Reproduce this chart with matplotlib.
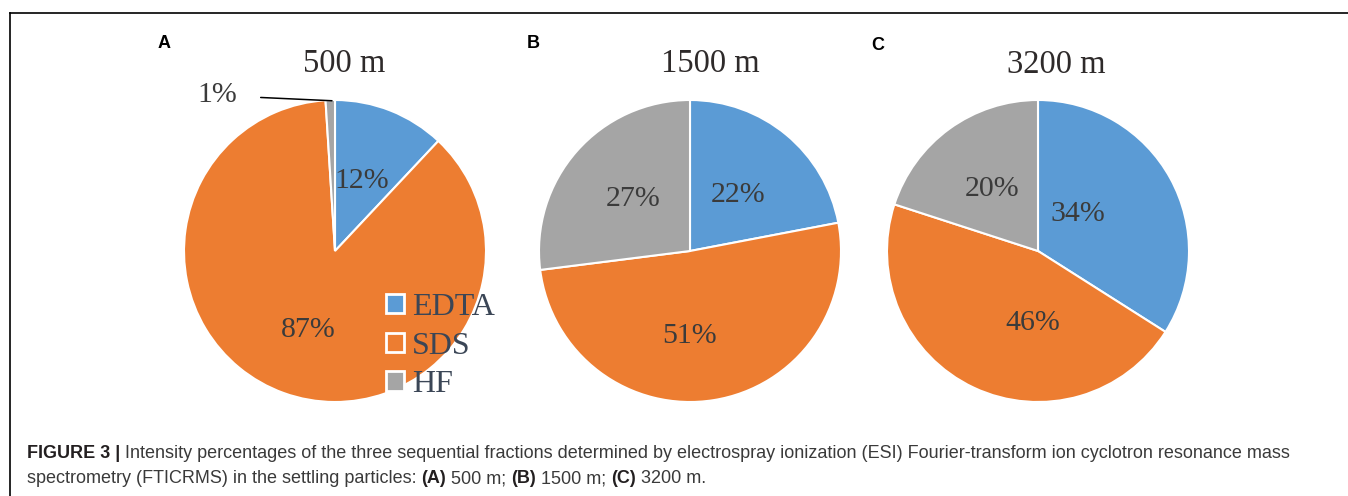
import matplotlib

matplotlib.use("Agg")
import matplotlib.pyplot as plt
import numpy as np
from matplotlib.lines import Line2D
from matplotlib.patches import Patch

# data
fractions = ["EDTA", "SDS", "HF"]
depths = ["500 m", "1500 m", "3200 m"]
panel_letters = ["A", "B", "C"]
pct_500 = [12, 87, 1]
pct_1500 = [22, 51, 27]
pct_3200 = [34, 46, 20]

colors = ["#5B9BD5", "#ED7D31", "#A5A5A5"]
W, H = 1348, 496
serif = "Liberation Serif"
sans = "Liberation Sans"
txt_col = "#3b3b3b"

fig = plt.figure(figsize=(W / 100, H / 100), dpi=100)


def fx(x):
    return x / W


def fy(y):
    return 1 - y / H


# pie centres / radius in pixels
centres = [(335, 251), (690, 251), (1038, 251)]
radius = 151
title_pos = [(344, 64), (710, 64), (1056, 65)]
letter_pos = [(158, 44), (527, 44), (871, 45)]
# label placement (distance from centre in radii, angle in degrees)
label_place = [
    [(0.50, 69), (0.55, -109), None],
    [(0.49, 49), (0.56, -90), (0.51, 138)],
    [(0.36, 43), (0.48, -94), (0.51, 127)],
]

all_values = [pct_500, pct_1500, pct_3200]
axes = []
for i, vals in enumerate(all_values):
    cx, cy = centres[i]
    ax = fig.add_axes([fx(cx - radius), fy(cy + radius), 2 * radius / W, 2 * radius / H])
    wedges, _ = ax.pie(
        vals,
        colors=colors,
        startangle=90,
        counterclock=False,
        wedgeprops=dict(edgecolor="white", linewidth=1.5),
    )
    ax.set_xlim(-1, 1)
    ax.set_ylim(-1, 1)
    ax.set_aspect("equal")
    ax.axis("off")
    for j, v in enumerate(vals):
        place = label_place[i][j]
        if place is None:
            continue
        d, ang = place
        a = np.deg2rad(ang)
        ax.text(d * np.cos(a), d * np.sin(a), f"{v}%", ha="center", va="center",
                fontsize=21.5, family=serif, color=txt_col)
    fig.text(fx(title_pos[i][0]), fy(title_pos[i][1]), depths[i], ha="center", va="center",
             fontsize=23.5, family=serif, color="#2e2a2a")
    fig.text(fx(letter_pos[i][0]), fy(letter_pos[i][1]), panel_letters[i], ha="left", va="center",
             fontsize=13, family=sans, fontweight="bold", color="black")
    axes.append(ax)

# 1% label with leader line on panel A
ax = axes[0]
ax.annotate(
    f"{pct_500[2]}%",
    xy=(-0.02, 0.995),
    xytext=(-0.78, 1.03),
    ha="center", va="center",
    fontsize=21.5, family=serif, color=txt_col,
    arrowprops=dict(arrowstyle="-", color="black", lw=1.1, shrinkA=15, shrinkB=0),
    annotation_clip=False,
)

# legend
handles = [Patch(facecolor=c, edgecolor="white", linewidth=2) for c in colors]
fig.legend(
    handles, fractions,
    loc="upper left", bbox_to_anchor=(fx(386), fy(293)),
    frameon=False, borderpad=0, borderaxespad=0,
    handlelength=0.56, handleheight=0.56, handletextpad=0.25, labelspacing=0.3,
    prop=dict(family=serif, size=23), labelcolor="#3b4656",
)

# frame lines
fig.add_artist(Line2D([fx(10), fx(10)], [fy(13), 0], color="black", lw=1.2))
fig.add_artist(Line2D([fx(10), 1], [fy(13), fy(13)], color="black", lw=1.2))

# caption with bold segments
cap_lines = [
    [("FIGURE 3 |", True), (" Intensity percentages of the three sequential fractions determined by electrospray ionization (ESI) Fourier-transform ion cyclotron resonance mass", False)],
    [("spectrometry (FTICRMS) in the settling particles: ", False), ("(A)", True), (" 500 m; ", False),
     ("(B)", True), (" 1500 m; ", False), ("(C)", True), (" 3200 m.", False)],
]
cap_base = [458, 483]
cap_left, cap_right = 27, 1290
renderer = fig.canvas.get_renderer()


def draw_caption(size):
    drawn = []
    ends = []
    for line, yb in zip(cap_lines, cap_base):
        x = cap_left
        for seg, bold in line:
            t = fig.text(fx(x), fy(yb), seg, ha="left", va="baseline", fontsize=size, family=sans,
                         fontweight="bold" if bold else "normal",
                         color="#231f20" if bold else "#3a3a3a")
            x += t.get_window_extent(renderer=renderer).width
            drawn.append(t)
        ends.append(x)
    return drawn, ends


# fit the first caption line to the reference width
size = 11.6
drawn, ends = draw_caption(size)
for t in drawn:
    t.remove()
size = size * (cap_right - cap_left) / (ends[0] - cap_left)
draw_caption(size)

fig.savefig("out.png", dpi=100)
